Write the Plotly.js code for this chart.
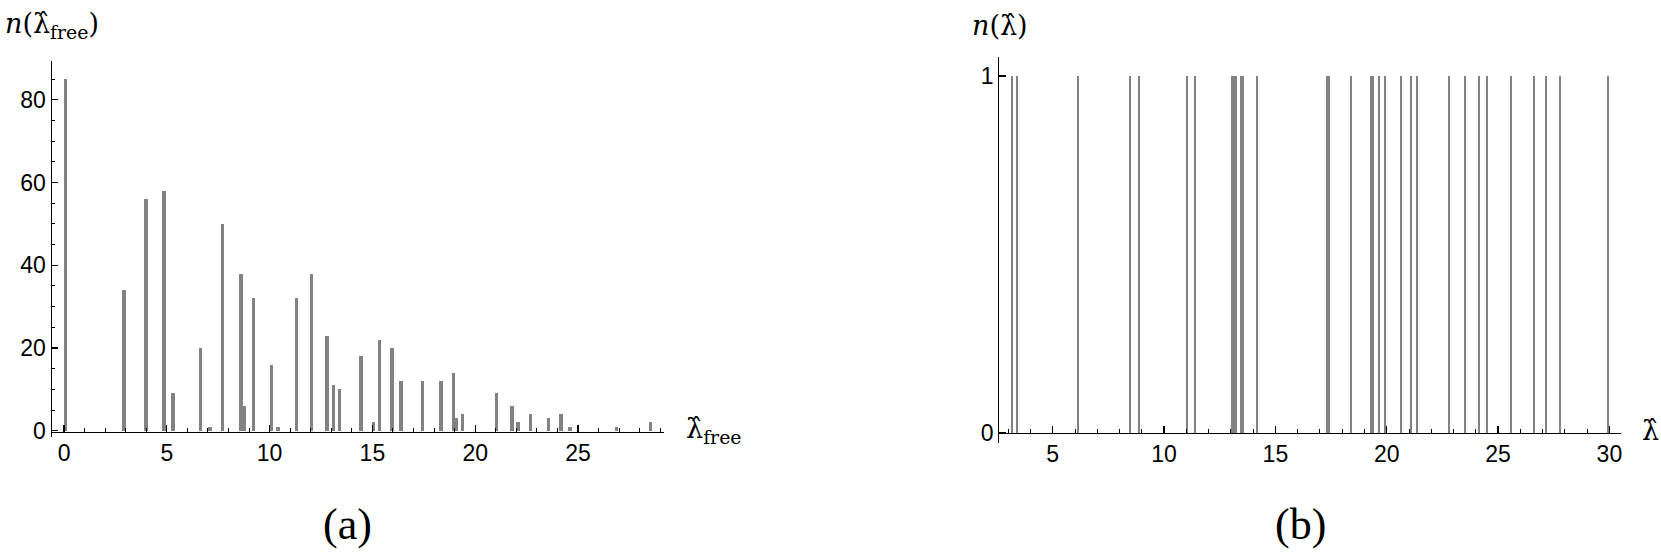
<!DOCTYPE html>
<html>
<head>
<meta charset="utf-8">
<script src="https://cdn.plot.ly/plotly-3.0.1.min.js"></script>
<style>html,body{margin:0;padding:0;background:#fff;}#chart{width:1661px;height:552px;}</style>
</head>
<body>
<div id="chart"></div>
<script>
// Panel (a): free spectrum, eigenvalue positions and multiplicities
const lamFree = [0.06, 2.91, 3.98, 4.86, 5.31, 6.65, 7.11, 7.71, 8.60, 8.78, 9.21, 10.10, 10.40, 11.30, 12.03, 12.80, 13.10, 13.40, 14.45, 15.05, 15.34, 15.96, 16.39, 17.43, 18.34, 18.95, 19.08, 19.39, 21.03, 21.79, 22.08, 22.68, 23.57, 24.17, 24.62, 26.88, 28.53];
const countFree = [85, 34, 56, 58, 9, 20, 1, 50, 38, 6, 32, 16, 1, 32, 38, 23, 11, 10, 18, 2, 22, 20, 12, 12, 12, 14, 3, 4, 9, 6, 2, 4, 3, 4, 1, 1, 2];

// Panel (b): spectrum, each eigenvalue simple
const lam = [3.16, 3.38, 6.15, 8.48, 8.86, 11.01, 11.37, 13.07, 13.16, 13.25, 13.45, 13.54, 14.17, 17.30, 17.42, 18.39, 19.29, 19.39, 19.65, 19.92, 20.65, 21.09, 21.36, 22.81, 23.53, 24.15, 24.51, 25.59, 26.60, 27.13, 27.76, 29.93];
const countLam = [1, 1, 1, 1, 1, 1, 1, 1, 1, 1, 1, 1, 1, 1, 1, 1, 1, 1, 1, 1, 1, 1, 1, 1, 1, 1, 1, 1, 1, 1, 1, 1];

const W = 1661, H = 552;
const px = x => x / W;
const py = y => 1 - y / H;

const barColor = '#828282';
const tickFont = {family: 'Liberation Sans, Arial, sans-serif', size: 23, color: '#000'};
const serif = 'Liberation Serif, Times New Roman, serif';
const labelFont = {family: 'DejaVu Serif, serif', size: 27, color: '#000'};

const traces = [
  {type: 'bar', x: lamFree, y: countFree, width: 0.17, xaxis: 'x', yaxis: 'y',
   marker: {color: barColor, line: {width: 0}}, hoverinfo: 'x+y'},
  {type: 'bar', x: lam, y: countLam, width: 0.09, xaxis: 'x2', yaxis: 'y2',
   marker: {color: barColor, line: {width: 0}}, hoverinfo: 'x+y'}
];

const axCommon = {
  showgrid: false, zeroline: false, showline: true, linecolor: '#000', linewidth: 1.2,
  ticks: 'inside', tickcolor: '#000', tickwidth: 1.2, ticklen: 7,
  tickfont: tickFont, fixedrange: true
};

function ann(x, y, text, font, xanchor) {
  return {xref: 'paper', yref: 'paper', x: px(x), y: py(y), xanchor: xanchor || 'left', yanchor: 'middle',
          showarrow: false, text: text, font: font};
}

const layout = {
  width: W, height: H,
  margin: {l: 0, r: 0, t: 0, b: 0, pad: 0},
  paper_bgcolor: '#fff', plot_bgcolor: 'rgba(0,0,0,0)',
  showlegend: false, bargap: 0,
  xaxis: Object.assign({}, axCommon, {
    domain: [px(51.7), px(664.3)], range: [-0.6, 29.2],
    anchor: 'free', position: py(431.7),
    tickmode: 'linear', tick0: 0, dtick: 5,
    minor: {tickmode: 'linear', tick0: 0, dtick: 1, ticks: 'inside', ticklen: 4, tickcolor: '#000', tickwidth: 1, showgrid: false}
  }),
  yaxis: Object.assign({}, axCommon, {
    domain: [py(437), py(61)], range: [-1.52, 89.4], anchor: 'x',
    tickmode: 'linear', tick0: 0, dtick: 20, ticklen: 6,
    minor: {tickmode: 'linear', tick0: 0, dtick: 5, ticks: 'inside', ticklen: 3.5, tickcolor: '#000', tickwidth: 1, showgrid: false}
  }),
  xaxis2: Object.assign({}, axCommon, {
    domain: [px(999.3), px(1621)], range: [2.6, 30.52],
    anchor: 'free', position: py(432.7),
    tickmode: 'linear', tick0: 0, dtick: 5,
    minor: {tickmode: 'linear', tick0: 0, dtick: 1, ticks: 'inside', ticklen: 4, tickcolor: '#000', tickwidth: 1, showgrid: false}
  }),
  yaxis2: Object.assign({}, axCommon, {
    domain: [py(443), py(57.3)], range: [-0.029, 1.0524], anchor: 'x2',
    tickmode: 'linear', tick0: 0, dtick: 1, ticklen: 7
  }),
  annotations: [
    ann(3, 26, '<i>n</i>(λ\u0302<sub>free</sub>)', labelFont),
    ann(684, 430, 'λ\u0302<sub>free</sub>', labelFont),
    ann(970, 26, '<i>n</i>(λ\u0302)', labelFont),
    ann(1640, 430, 'λ\u0302', labelFont),
    ann(347, 524, '(a)', {family: serif, size: 44, color: '#000'}, 'center'),
    ann(1300, 524, '(b)', {family: serif, size: 44, color: '#000'}, 'center')
  ]
};

Plotly.newPlot('chart', traces, layout, {displayModeBar: false, staticPlot: true});
</script>
</body>
</html>
